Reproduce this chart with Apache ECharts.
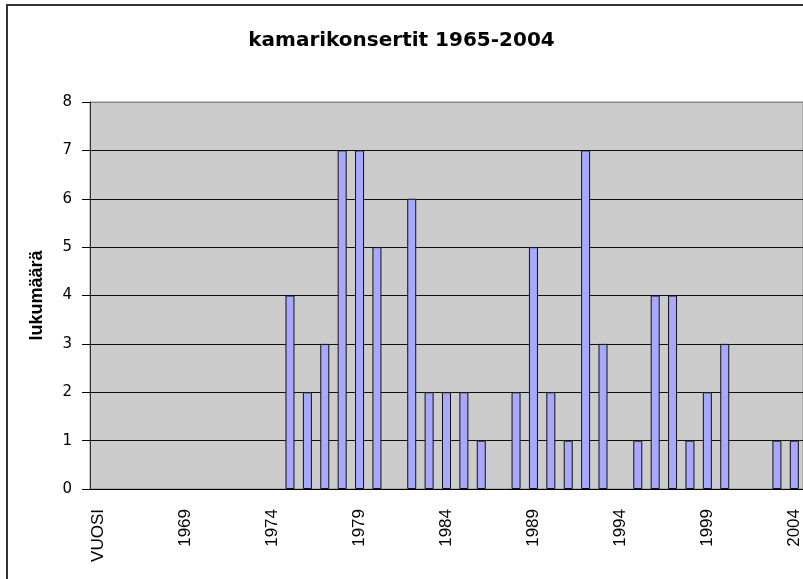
<!DOCTYPE html>
<html>
<head>
<meta charset="utf-8">
<script src="https://cdn.jsdelivr.net/npm/echarts@6/dist/echarts.min.js"></script>
<style>
  html, body { margin: 0; padding: 0; background: #fff; }
  #chart { width: 803px; height: 579px; }
</style>
</head>
<body>
<div id="chart"></div>
<script>
"use strict";

var years = ['VUOSI',
	'1965', '1966', '1967', '1968', '1969', '1970', '1971', '1972', '1973', '1974',
	'1975', '1976', '1977', '1978', '1979', '1980', '1981', '1982', '1983', '1984',
	'1985', '1986', '1987', '1988', '1989', '1990', '1991', '1992', '1993', '1994',
	'1995', '1996', '1997', '1998', '1999', '2000', '2001', '2002', '2003', '2004'];

var concerts = [0,
	0, 0, 0, 0, 0, 0, 0, 0, 0, 0,
	4, 2, 3, 7, 7, 5, 0, 6, 2, 2,
	2, 1, 0, 2, 5, 2, 1, 7, 3, 0,
	1, 4, 4, 1, 2, 3, 0, 0, 1, 1];

var yTicks = {min: 0, max: 8, interval: 1};

// empty years are drawn as blanks, like in the original sheet
var barData = concerts.map(function (v) {
	return v === 0 ? '-' : v;
});

var chart = echarts.init(document.getElementById('chart')),
	option = {
		animation: false,
		backgroundColor: '#ffffff',
		title: {
			text: 'kamarikonsertit 1965-2004',
			left: 'center',
			top: 26,
			textStyle: {
				fontFamily: 'DejaVu Sans',
				fontWeight: 'bold',
				fontSize: 20,
				color: '#000'
			}
		},
		graphic: [{
			type: 'rect',
			z: -10,
			shape: {x: 7, y: 5, width: 900, height: 700},
			style: {fill: 'none', stroke: '#333', lineWidth: 2}
		}],
		grid: {
			show: true,
			left: 90,
			top: 102,
			width: 714,
			height: 387,
			backgroundColor: '#cccccc',
			borderColor: '#888',
			borderWidth: 1
		},
		xAxis: {
			type: 'category',
			data: years,
			axisLine: {lineStyle: {color: '#000', width: 1}},
			axisTick: {interval: 0, length: 7, lineStyle: {color: '#000'}},
			axisLabel: {
				interval: 4,
				rotate: 90,
				margin: 20,
				fontFamily: 'Liberation Sans',
				fontSize: 17,
				color: '#000'
			},
			splitLine: {show: false}
		},
		yAxis: {
			type: 'value',
			min: yTicks.min,
			max: yTicks.max,
			interval: yTicks.interval,
			name: 'lukumäärä',
			nameLocation: 'middle',
			nameGap: 44,
			nameTextStyle: {
				fontFamily: 'Liberation Sans',
				fontWeight: 'bold',
				fontSize: 18,
				color: '#000'
			},
			axisLine: {show: true, lineStyle: {color: '#333', width: 1}},
			axisTick: {show: true, length: 8, lineStyle: {color: '#000'}},
			axisLabel: {
				margin: 18,
				fontFamily: 'DejaVu Sans',
				fontSize: 15,
				color: '#000'
			},
			splitLine: {
				show: true,
				lineStyle: {
					color: ['#111', '#111', '#111', '#111', '#111', '#111', '#111', '#111', '#888'],
					width: 1.2
				}
			}
		},
		series: [{
			type: 'bar',
			data: barData,
			barWidth: 9,
			itemStyle: {
				color: '#a8a8ff',
				borderColor: '#111',
				borderWidth: 1
			}
		}]
	};

chart.setOption(option);
</script>
</body>
</html>
